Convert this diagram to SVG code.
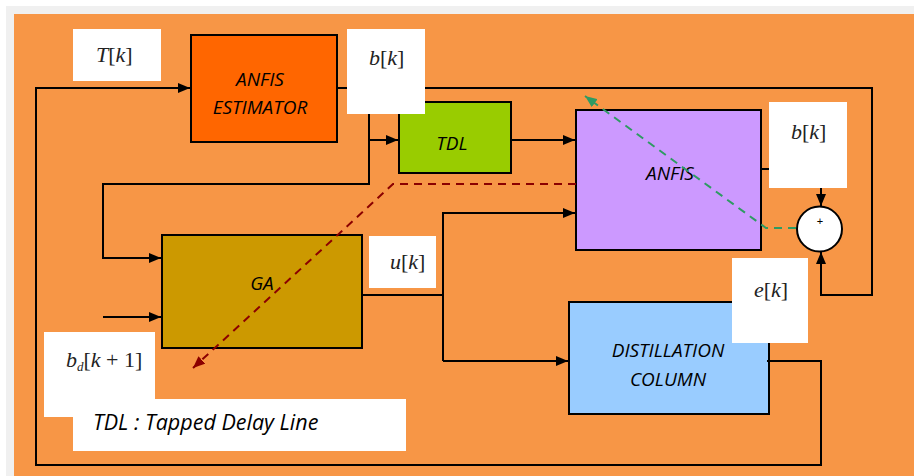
<svg xmlns="http://www.w3.org/2000/svg" width="914" height="476" viewBox="0 0 914 476">
<style>
.blk{stroke:#000;stroke-width:2}
.lbl{font-family:"Open Sans",sans-serif;font-style:italic;font-size:19px;fill:#000;text-anchor:middle}
.math{font-family:"Liberation Serif",serif;font-size:22px;fill:#222}
.it{font-style:italic}
.ln{fill:none;stroke:#000;stroke-width:2}
.wb{fill:#fff}
</style>
<defs>
<marker id="ah" viewBox="0 0 12 10" refX="12" refY="5" markerWidth="12" markerHeight="10" markerUnits="userSpaceOnUse" orient="auto"><path d="M0,0 L12,5 L0,10 z" fill="#000"/></marker>
<marker id="ahr" viewBox="0 0 12 10" refX="12" refY="5" markerWidth="12" markerHeight="10" markerUnits="userSpaceOnUse" orient="auto"><path d="M0,0 L12,5 L0,10 z" fill="#8B0000"/></marker>
<marker id="ahg" viewBox="0 0 12 10" refX="12" refY="5" markerWidth="12" markerHeight="10" markerUnits="userSpaceOnUse" orient="auto"><path d="M0,0 L12,5 L0,10 z" fill="#2E9B63"/></marker>
</defs>
<rect x="0" y="0" width="914" height="476" fill="#fff"/>
<rect x="6" y="6" width="908" height="470" fill="#f0f0f0"/>
<rect x="14" y="14" width="900" height="462" fill="#F79646"/>

<g id="anfis-estimator">
<rect class="blk" x="191" y="35" width="146" height="107" fill="#FF6600"/>
<text class="lbl" x="260" y="86">ANFIS</text>
<text class="lbl" x="260" y="114">ESTIMATOR</text>
</g>
<g id="tdl">
<rect class="blk" x="399" y="102" width="112" height="71" fill="#99CC00"/>
<text class="lbl" x="452" y="150">TDL</text>
</g>
<g id="anfis">
<rect class="blk" x="576" y="110" width="185" height="140" fill="#CC99FF"/>
<text class="lbl" x="670" y="180">ANFIS</text>
</g>
<g id="ga">
<rect class="blk" x="162" y="235" width="200" height="113" fill="#CC9900"/>
<text class="lbl" x="262" y="290">GA</text>
</g>
<g id="distillation">
<rect class="blk" x="569" y="302" width="200" height="112" fill="#99CCFF"/>
<text class="lbl" x="668" y="357">DISTILLATION</text>
<text class="lbl" x="668" y="386">COLUMN</text>
</g>
<g id="sum">
<circle cx="819.5" cy="229" r="22.5" fill="#fff" stroke="#000" stroke-width="2"/>
<text x="820" y="225" font-family="Liberation Sans,sans-serif" font-size="11" text-anchor="middle">+</text>
</g>

<g id="connectors">
<polyline class="ln" points="767,361 821,361 821,465 36,465 36,88 190,88" marker-end="url(#ah)"/>
<polyline class="ln" points="337,88 872,88 872,295 821,295 821,252" marker-end="url(#ah)"/>
<polyline class="ln" points="369,88 369,184 103,184 103,258 161,258" marker-end="url(#ah)"/>
<polyline class="ln" points="369,140 398,140" marker-end="url(#ah)"/>
<polyline class="ln" points="511,140 575,140" marker-end="url(#ah)"/>
<polyline class="ln" points="362,295 443,295"/>
<polyline class="ln" points="443,361 443,213 575,213" marker-end="url(#ah)"/>
<polyline class="ln" points="443,361 568,361" marker-end="url(#ah)"/>
<polyline class="ln" points="103,317 161,317" marker-end="url(#ah)"/>
<polyline class="ln" points="761,169 821,169 821,206" marker-end="url(#ah)"/>
<polyline fill="none" stroke="#8B0000" stroke-width="2" stroke-dasharray="8,6" points="576,184 393,184 193,368" marker-end="url(#ahr)"/>
<polyline fill="none" stroke="#2E9B63" stroke-width="2" stroke-dasharray="8,6" points="796,228 766,228 585,96" marker-end="url(#ahg)"/>
</g>

<g id="label-Tk">
<rect class="wb" x="73" y="29" width="88" height="52"/>
<text class="math" x="96" y="62" font-size="24"><tspan class="it">T</tspan>[<tspan class="it">k</tspan>]</text>
</g>
<g id="label-bk1">
<rect class="wb" x="347" y="29" width="78" height="85"/>
<text class="math" x="369" y="65"><tspan class="it">b</tspan>[<tspan class="it">k</tspan>]</text>
</g>
<g id="label-bk2">
<rect class="wb" x="769" y="102" width="78" height="86"/>
<text class="math" x="791" y="139"><tspan class="it">b</tspan>[<tspan class="it">k</tspan>]</text>
</g>
<g id="label-uk">
<rect class="wb" x="369" y="236" width="67" height="52"/>
<text class="math" x="390" y="269" font-size="25"><tspan class="it">u</tspan>[<tspan class="it">k</tspan>]</text>
</g>
<g id="label-ek">
<rect class="wb" x="732" y="258" width="76" height="85"/>
<text class="math" x="754" y="297"><tspan class="it">e</tspan>[<tspan class="it">k</tspan>]</text>
</g>
<g id="label-bd">
<rect class="wb" x="44" y="332" width="111" height="85"/>
<text class="math" x="66" y="367" font-size="19"><tspan class="it">b</tspan><tspan class="it" font-size="13" dy="4">d</tspan><tspan dy="-4">[</tspan><tspan class="it">k</tspan> + 1]</text>
</g>
<g id="legend">
<rect class="wb" x="73" y="399" width="333" height="52"/>
<text x="93" y="430" font-family="Open Sans,sans-serif" font-style="italic" font-size="21.5">TDL : Tapped Delay Line</text>
</g>
</svg>
